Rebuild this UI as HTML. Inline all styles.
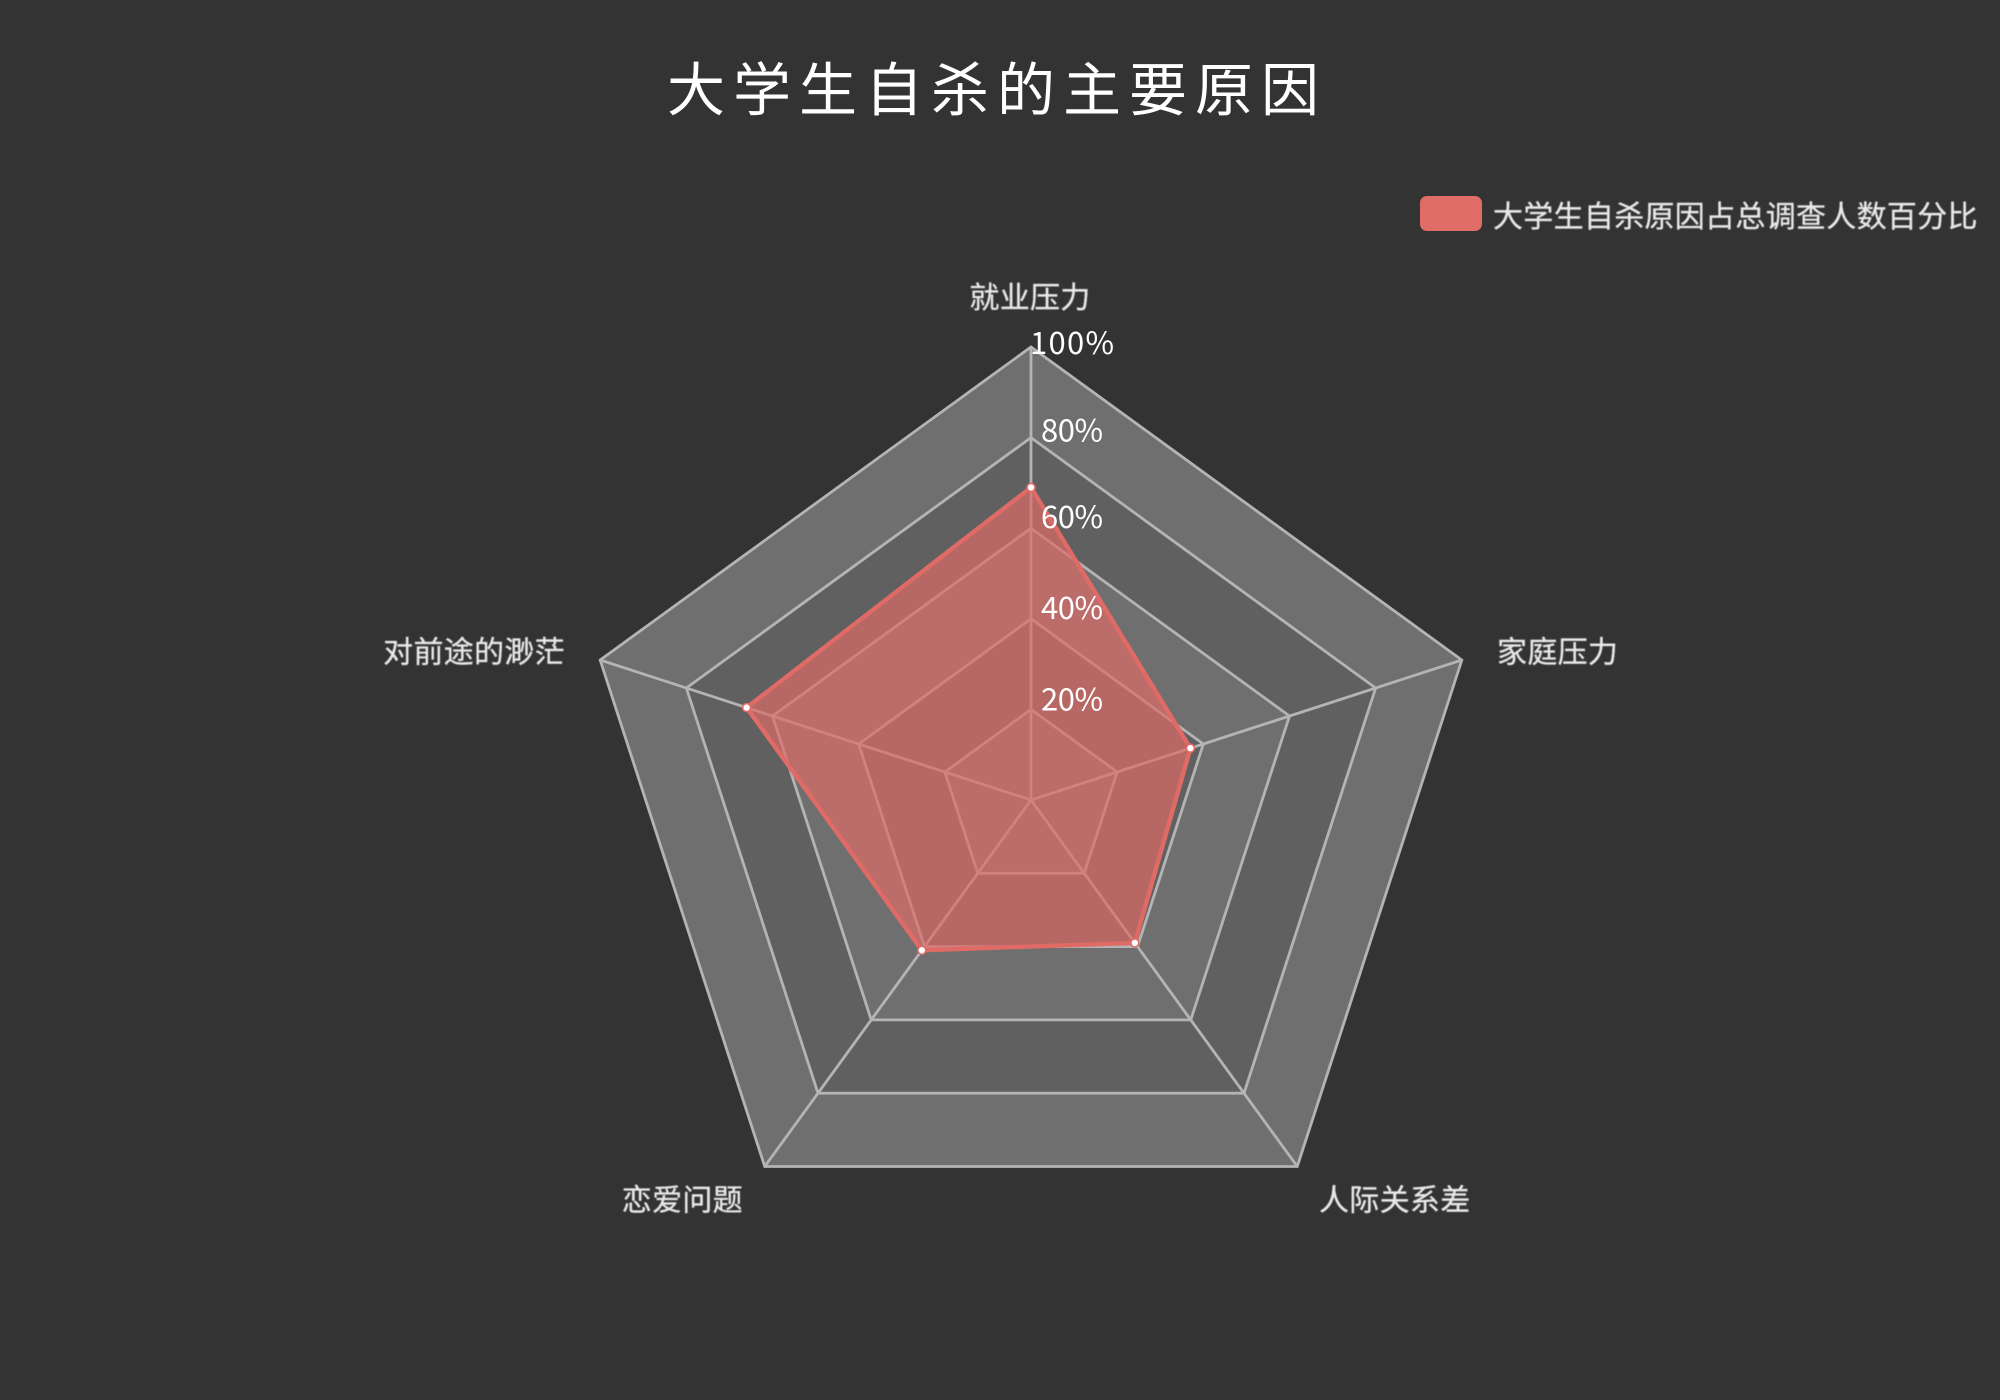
<!DOCTYPE html>
<html>
<head>
<meta charset="utf-8">
<style>
html,body{margin:0;padding:0;background:#333333;width:2000px;height:1400px;overflow:hidden}
svg{display:block}
text{font-family:"WenQuanYi Zen Hei","Noto Sans CJK SC","Liberation Sans",sans-serif}
</style>
</head>
<body>
<svg id="chart" xmlns="http://www.w3.org/2000/svg" width="2000" height="1400" viewBox="0 0 2000 1400">
  <defs>
    <filter id="soft" x="-5%" y="-20%" width="110%" height="140%"><feGaussianBlur stdDeviation="0.6"/></filter>
  </defs>
  <rect width="2000" height="1400" fill="#333333"/>
  <text x="667" y="110.5" font-size="58" letter-spacing="8" fill="#ffffff">大学生自杀的主要原因</text>
  <rect x="1420" y="196" width="62" height="35" rx="7" ry="7" fill="#e06c68"/>
  <text x="1493" y="227" font-size="30" letter-spacing="0.3" fill="#e8e8e8" stroke="#e8e8e8" stroke-width="0.3" filter="url(#soft)">大学生自杀原因占总调查人数百分比</text>
  <g id="areas"></g>
  <g id="lines"></g>
  <g id="series"></g>
  <g id="catLabels"></g>
  <g id="tickLabels"></g>
</svg>
<script>
var categories = ['就业压力', '家庭压力', '人际关系差', '恋爱问题', '对前途的渺茫'];
var seriesValues = [69, 37, 39, 41, 66];
var tickValues = [20, 40, 60, 80, 100];
var tickLabels = ['20%', '40%', '60%', '80%', '100%'];

var NS = 'http://www.w3.org/2000/svg';
var CX = 1031, CY = 800, R = 453, MAX = 100;

function radius(v) { return v / MAX * R; }
function angle(i) { return i / categories.length * 2 * Math.PI; }
function px(i, v) { return CX + radius(v) * Math.sin(angle(i)); }
function py(i, v) { return CY - radius(v) * Math.cos(angle(i)); }
function ring(v) {
  var pts = [];
  for (var i = 0; i < categories.length; i++) pts.push(px(i, v).toFixed(2) + ',' + py(i, v).toFixed(2));
  return pts.join(' ');
}
function tickNudge(v) {
  if (v === 100) return 7;
  if (v === 80) return 4;
  if (v === 20) return 1;
  return 0;
}
function mk(tag, parent) {
  var el = document.createElementNS(NS, tag);
  parent.appendChild(el);
  return el;
}

var areas = document.getElementById('areas');
var lines = document.getElementById('lines');
var series = document.getElementById('series');
var catLabels = document.getElementById('catLabels');
var tickG = document.getElementById('tickLabels');

// alternating split areas, outermost first
for (var t = tickValues.length - 1; t >= 0; t--) {
  var a = mk('polygon', areas);
  
  
  a.setAttribute('points', ring(tickValues[t]));
  a.setAttribute('fill', (tickValues.length - 1 - t) % 2 === 0 ? '#6f6f6f' : '#606060');
}
// grid rings
tickValues.forEach(function (v) {
  var p = mk('polygon', lines);
  
  
  p.setAttribute('points', ring(v));
  p.setAttribute('fill', 'none');
  p.setAttribute('stroke', '#b4b4b4');
  p.setAttribute('stroke-width', '2.8');
});
// spokes
categories.forEach(function (c, i) {
  var l = mk('line', lines);
  
  
  l.setAttribute('x1', CX);
  l.setAttribute('y1', CY);
  l.setAttribute('x2', px(i, MAX));
  l.setAttribute('y2', py(i, MAX));
  l.setAttribute('stroke', '#b4b4b4');
  l.setAttribute('stroke-width', '2.8');
});
// series polygon
var pts = seriesValues.map(function (v, i) { return px(i, v).toFixed(2) + ',' + py(i, v).toFixed(2); }).join(' ');
var fillPoly = mk('polygon', series);


fillPoly.setAttribute('points', pts);
fillPoly.setAttribute('fill', '#dd6b66');
fillPoly.setAttribute('fill-opacity', '0.7');
var strokePoly = mk('polygon', series);


strokePoly.setAttribute('points', pts);
strokePoly.setAttribute('fill', 'none');
strokePoly.setAttribute('stroke', '#e06b66');
strokePoly.setAttribute('stroke-width', '4.4');
strokePoly.setAttribute('stroke-linejoin', 'round');
seriesValues.forEach(function (v, i) {
  var d = mk('circle', series);
  
  
  d.setAttribute('cx', px(i, v));
  d.setAttribute('cy', py(i, v));
  d.setAttribute('r', '4');
  d.setAttribute('fill', '#ffffff');
  d.setAttribute('stroke', '#e06b66');
  d.setAttribute('stroke-width', '1.6');
});
// category labels
categories.forEach(function (c, i) {
  var gap = 37;
  var s = Math.sin(angle(i)), k = Math.cos(angle(i));
  var t = mk('text', catLabels);
  
  
  t.setAttribute('x', CX + (R + gap) * s + (k > 0.9 ? -1 : 0));
  t.setAttribute('y', CY - (R + gap) * k + (k > 0.9 ? -2 : 14));
  t.setAttribute('text-anchor', Math.abs(s) < 0.01 ? 'middle' : (s > 0 ? 'start' : 'end'));
  t.setAttribute('font-size', '30');
  t.setAttribute('letter-spacing', '0.3');
  t.setAttribute('fill', '#e8e8e8');
  t.setAttribute('stroke', '#e8e8e8');
  t.setAttribute('stroke-width', '0.3');
  t.setAttribute('filter', 'url(#soft)');
  t.textContent = c;
});
// radial tick labels
tickValues.forEach(function (v, i) {
  var t = mk('text', tickG);
  
  
  t.setAttribute('x', CX + 41);
  t.setAttribute('y', py(0, v) + tickNudge(v));
  t.setAttribute('text-anchor', 'middle');
  t.setAttribute('font-size', '31');
  t.setAttribute('fill', '#ffffff');
  t.setAttribute('textLength', tickLabels[i].length === 4 ? 84 : 62);
  t.setAttribute('lengthAdjust', 'spacing');
  t.textContent = tickLabels[i];
});
</script>
</body>
</html>
